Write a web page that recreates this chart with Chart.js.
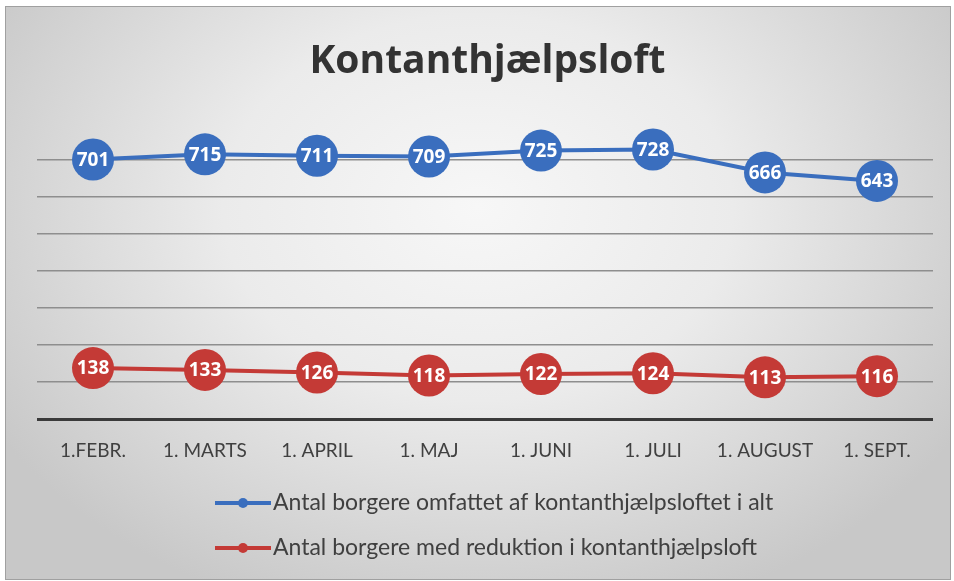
<!DOCTYPE html>
<html>
<head>
<meta charset="utf-8">
<script src="https://cdn.jsdelivr.net/npm/chart.js@4.4.1/dist/chart.umd.min.js"></script>
<style>
  html, body { margin: 0; padding: 0; background: #ffffff; }
  .frame {
    position: absolute; left: 5px; top: 6px; width: 944px; height: 572px;
    border: 1px solid #a0a0a0;
    background: radial-gradient(ellipse 60% 75% at 50% 35%, #f7f7f7 0%, #ebebeb 45%, #d8d8d8 75%, #c8c8c8 100%);
  }
  .wrap { position: absolute; left: 0; top: 0; width: 954px; height: 581px; }
</style>
</head>
<body>
<div class="frame"></div>
<div class="wrap"><canvas id="chart" width="954" height="581"></canvas></div>
<script>
// ============ data ============
var months = ["1.FEBR.", "1. MARTS", "1. APRIL", "1. MAJ", "1. JUNI", "1. JULI", "1. AUGUST", "1. SEPT."];
var totalCitizens = [701, 715, 711, 709, 725, 728, 666, 643];
var reducedCitizens = [138, 133, 126, 118, 122, 124, 113, 116];
var seriesNames = [
    "Antal borgere omfattet af kontanthjælpsloftet i alt",
    "Antal borgere med reduktion i kontanthjælpsloft"
];
var blue = 'rgb(58, 110, 190)';
var red = 'rgb(196, 58, 54)';

// labels inside the big markers
var pointLabels = {
    id: 'pointLabels',
    afterDatasetsDraw: function (chart) {
        var ctx = chart.ctx;
        ctx.save();
        ctx.fillStyle = '#ffffff';
        ctx.font = 'bold 19px "Open Sans", sans-serif';
        ctx.textAlign = 'center';
        ctx.textBaseline = 'middle';
        chart.data.datasets.forEach(function (ds, i) {
            chart.getDatasetMeta(i).data.forEach(function (pt, j) {
                ctx.fillText(ds.data[j], pt.x, pt.y + 1);
            });
        });
        ctx.restore();
    }
};

// stacked legend, left aligned as in the original
var stackedLegend = {
    id: 'stackedLegend',
    afterDraw: function (chart) {
        var ctx = chart.ctx;
        var x0 = 215, rows = [503, 548];
        ctx.save();
        ctx.font = '23px Lato, sans-serif';
        ctx.textBaseline = 'middle';
        chart.data.datasets.forEach(function (ds, i) {
            var y = rows[i];
            ctx.strokeStyle = ds.borderColor;
            ctx.lineWidth = 4;
            ctx.beginPath();
            ctx.moveTo(x0, y);
            ctx.lineTo(x0 + 56, y);
            ctx.stroke();
            ctx.fillStyle = ds.borderColor;
            ctx.beginPath();
            ctx.arc(x0 + 28, y, 5, 0, Math.PI * 2);
            ctx.fill();
            ctx.fillStyle = '#404040';
            ctx.fillText(ds.label, x0 + 58, y);
        });
        ctx.restore();
    }
};

var ctx = document.getElementById('chart');
var myChart = new Chart(ctx, {
    type: 'line',
    data: {
        labels: months,
        datasets: [{
            label: seriesNames[0],
            data: totalCitizens,
            borderColor: blue,
            backgroundColor: blue,
            borderWidth: 4,
            pointRadius: 21,
            pointHoverRadius: 21,
            pointBorderWidth: 0,
            clip: false
        }, {
            label: seriesNames[1],
            data: reducedCitizens,
            borderColor: red,
            backgroundColor: red,
            borderWidth: 4,
            pointRadius: 21,
            pointHoverRadius: 21,
            pointBorderWidth: 0,
            clip: false
        }]
    },
    options: {
        responsive: false,
        animation: false,
        layout: { padding: { left: 37, right: 16, top: 0, bottom: 107 } },
        plugins: {
            legend: { display: false },
            tooltip: { enabled: false },
            title: {
                display: true,
                text: 'Kontanthjælpsloft',
                color: '#333333',
                font: { family: '"Open Sans", sans-serif', size: 39, weight: 'bold' },
                padding: { top: 38, bottom: 38 }
            }
        },
        scales: {
            x: {
                offset: true,
                grid: { display: false },
                border: { display: false },
                ticks: {
                    color: '#404040',
                    font: { family: 'Lato, sans-serif', size: 19 },
                    padding: 12,
                    maxRotation: 0
                }
            },
            y: {
                min: 0,
                max: 800,
                ticks: { display: false, stepSize: 100 },
                border: { display: false },
                grid: {
                    drawTicks: false,
                    color: function (c) {
                        if (c.tick.value === 0) return '#3a3a3a';
                        if (c.tick.value === 800) return 'rgba(0,0,0,0)';
                        return '#8e8e8e';
                    },
                    lineWidth: function (c) { return c.tick.value === 0 ? 3 : 1.5; }
                }
            }
        }
    },
    plugins: [pointLabels, stackedLegend]
});
</script>
</body>
</html>
